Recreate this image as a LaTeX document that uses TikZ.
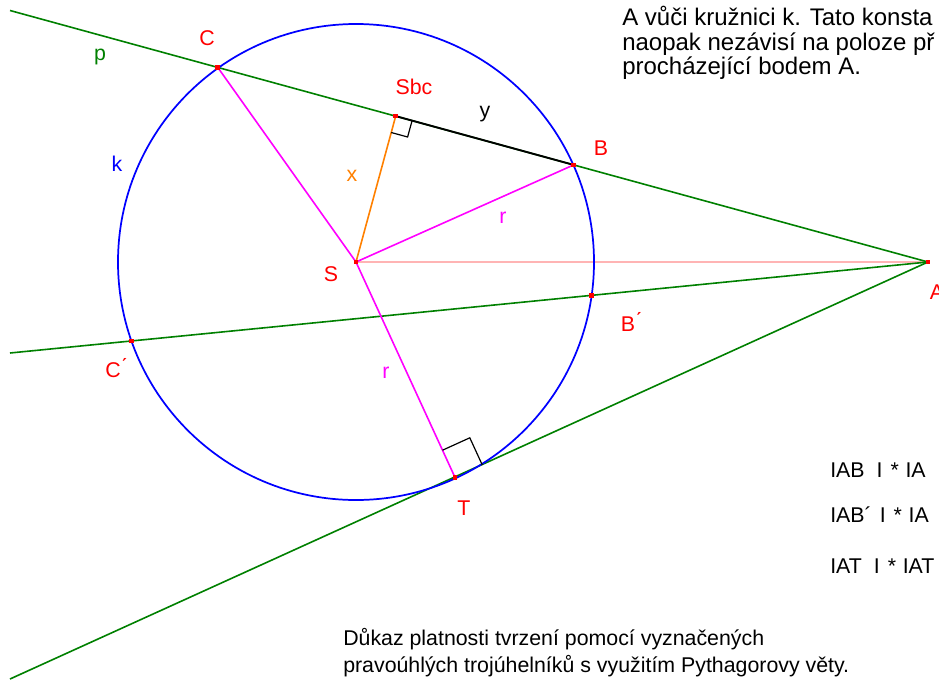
\documentclass[tikz,border=0pt]{standalone}
\usepackage{fontspec}
\setmainfont{Liberation Sans}

\definecolor{ggreen}{RGB}{0,128,0}
\definecolor{gorange}{RGB}{255,128,0}
\definecolor{gpink}{RGB}{255,180,180}
\definecolor{gmagenta}{RGB}{255,0,255}

\tikzset{
  lbl/.style={inner sep=0pt, text=red},
  dot/.style={fill=red, inner sep=0pt, minimum size=3.5pt},
  txt/.style={inner sep=0pt, anchor=base west}
}

\begin{document}
\begin{tikzpicture}[x=0.75pt,y=-0.75pt,font=\fontsize{16}{19}\selectfont]

\useasboundingbox (0,0) rectangle (939,682);

% points
\coordinate (S) at (356,262);
\coordinate (A) at (928,262);
\coordinate (C) at (217.7,67.3);
\coordinate (B) at (573.7,164.9);
\coordinate (Sbc) at (395.7,116.1);
\coordinate (B2) at (591.6,295.3);
\coordinate (C2) at (131.8,340.9);
\coordinate (T) at (455,477.4);

% free ends of the lines
\coordinate (pend) at (10,10.5);
\coordinate (qend) at (10,353);
\coordinate (tend) at (10,679);

\draw[gpink, line width=1pt] (S) -- (A);

\draw[ggreen, line width=1.2pt] (pend) -- (A);
\draw[ggreen, line width=1.2pt] (qend) -- (A);
\draw[ggreen, line width=1.2pt] (tend) -- (A);

\draw[blue, line width=1.3pt] (S) circle[radius=178.5pt];

\draw[gmagenta, line width=1.2pt] (S) -- (C);
\draw[gmagenta, line width=1.2pt] (S) -- (B);
\draw[gmagenta, line width=1.2pt] (S) -- (T);

\draw[gorange, line width=1.2pt] (S) -- (Sbc);
\draw[black, line width=1.4pt] (Sbc) -- (B);

% right angles
\draw[line width=0.9pt] (412.1,120.6) -- (407.6,137.0) -- (391.2,132.5);
\draw[line width=0.9pt] (482.3,465.0) -- (469.8,437.8) -- (442.5,450.2);

\node[dot] (dS) at (S) {};
\node[dot] (dA) at (A) {};
\node[dot] (dC) at (C) {};
\node[dot] (dB) at (B) {};
\node[dot] (dSbc) at (Sbc) {};
\node[dot] (dB2) at (B2) {};
\node[dot] (dC2) at (C2) {};
\node[dot] (dT) at (T) {};

\node[lbl] (lC) at (207,38) {C};
\node[lbl] (lSbc) at (414,87) {Sbc};
\node[lbl] (lB) at (601,148) {B};
\node[lbl] (lA) at (937,292) {A};
\node[lbl] (lB2) at (631,322) {B\'{}};
\node[lbl] (lC2) at (116,368) {C\'{}};
\node[lbl] (lT) at (464,508) {T};
\node[lbl] (lS) at (331,274) {S};

\node[lbl, text=ggreen] (lp) at (100,57) {p};
\node[lbl, text=blue] (lk) at (117,164) {k};
\node[lbl, text=gorange] (lx) at (352,176) {x};
\node[lbl, text=black] (ly) at (485,114) {y};
\node[lbl, text=gmagenta] (lr1) at (503,218) {r};
\node[lbl, text=gmagenta] (lr2) at (386,373) {r};

\begin{scope}[font=\fontsize{18}{21}\selectfont]
\node[txt] (note1) at (622,25) {A vůči kružnici k. Tato konsta};
\node[txt] (note2) at (622,50) {naopak nezávisí na poloze př};
\node[txt] (note3) at (622,74.5) {procházející bodem A.};
\end{scope}

\node[txt] (eq1) at (830,477) {IAB\hspace{9pt}I\hspace{6pt}*\hspace{5pt}IA};
\node[txt] (eq2) at (830,522) {IAB´\hspace{6pt}I\hspace{6pt}*\hspace{5pt}IA};
\node[txt] (eq3) at (830,573) {IAT\hspace{9pt}I\hspace{6pt}*\hspace{5pt}IAT};

\node[txt] (proof1) at (343,645) {Důkaz platnosti tvrzení pomocí vyznačených};
\node[txt] (proof2) at (343,672) {pravoúhlých trojúhelníků s využitím Pythagorovy věty.};

\end{tikzpicture}
\end{document}
